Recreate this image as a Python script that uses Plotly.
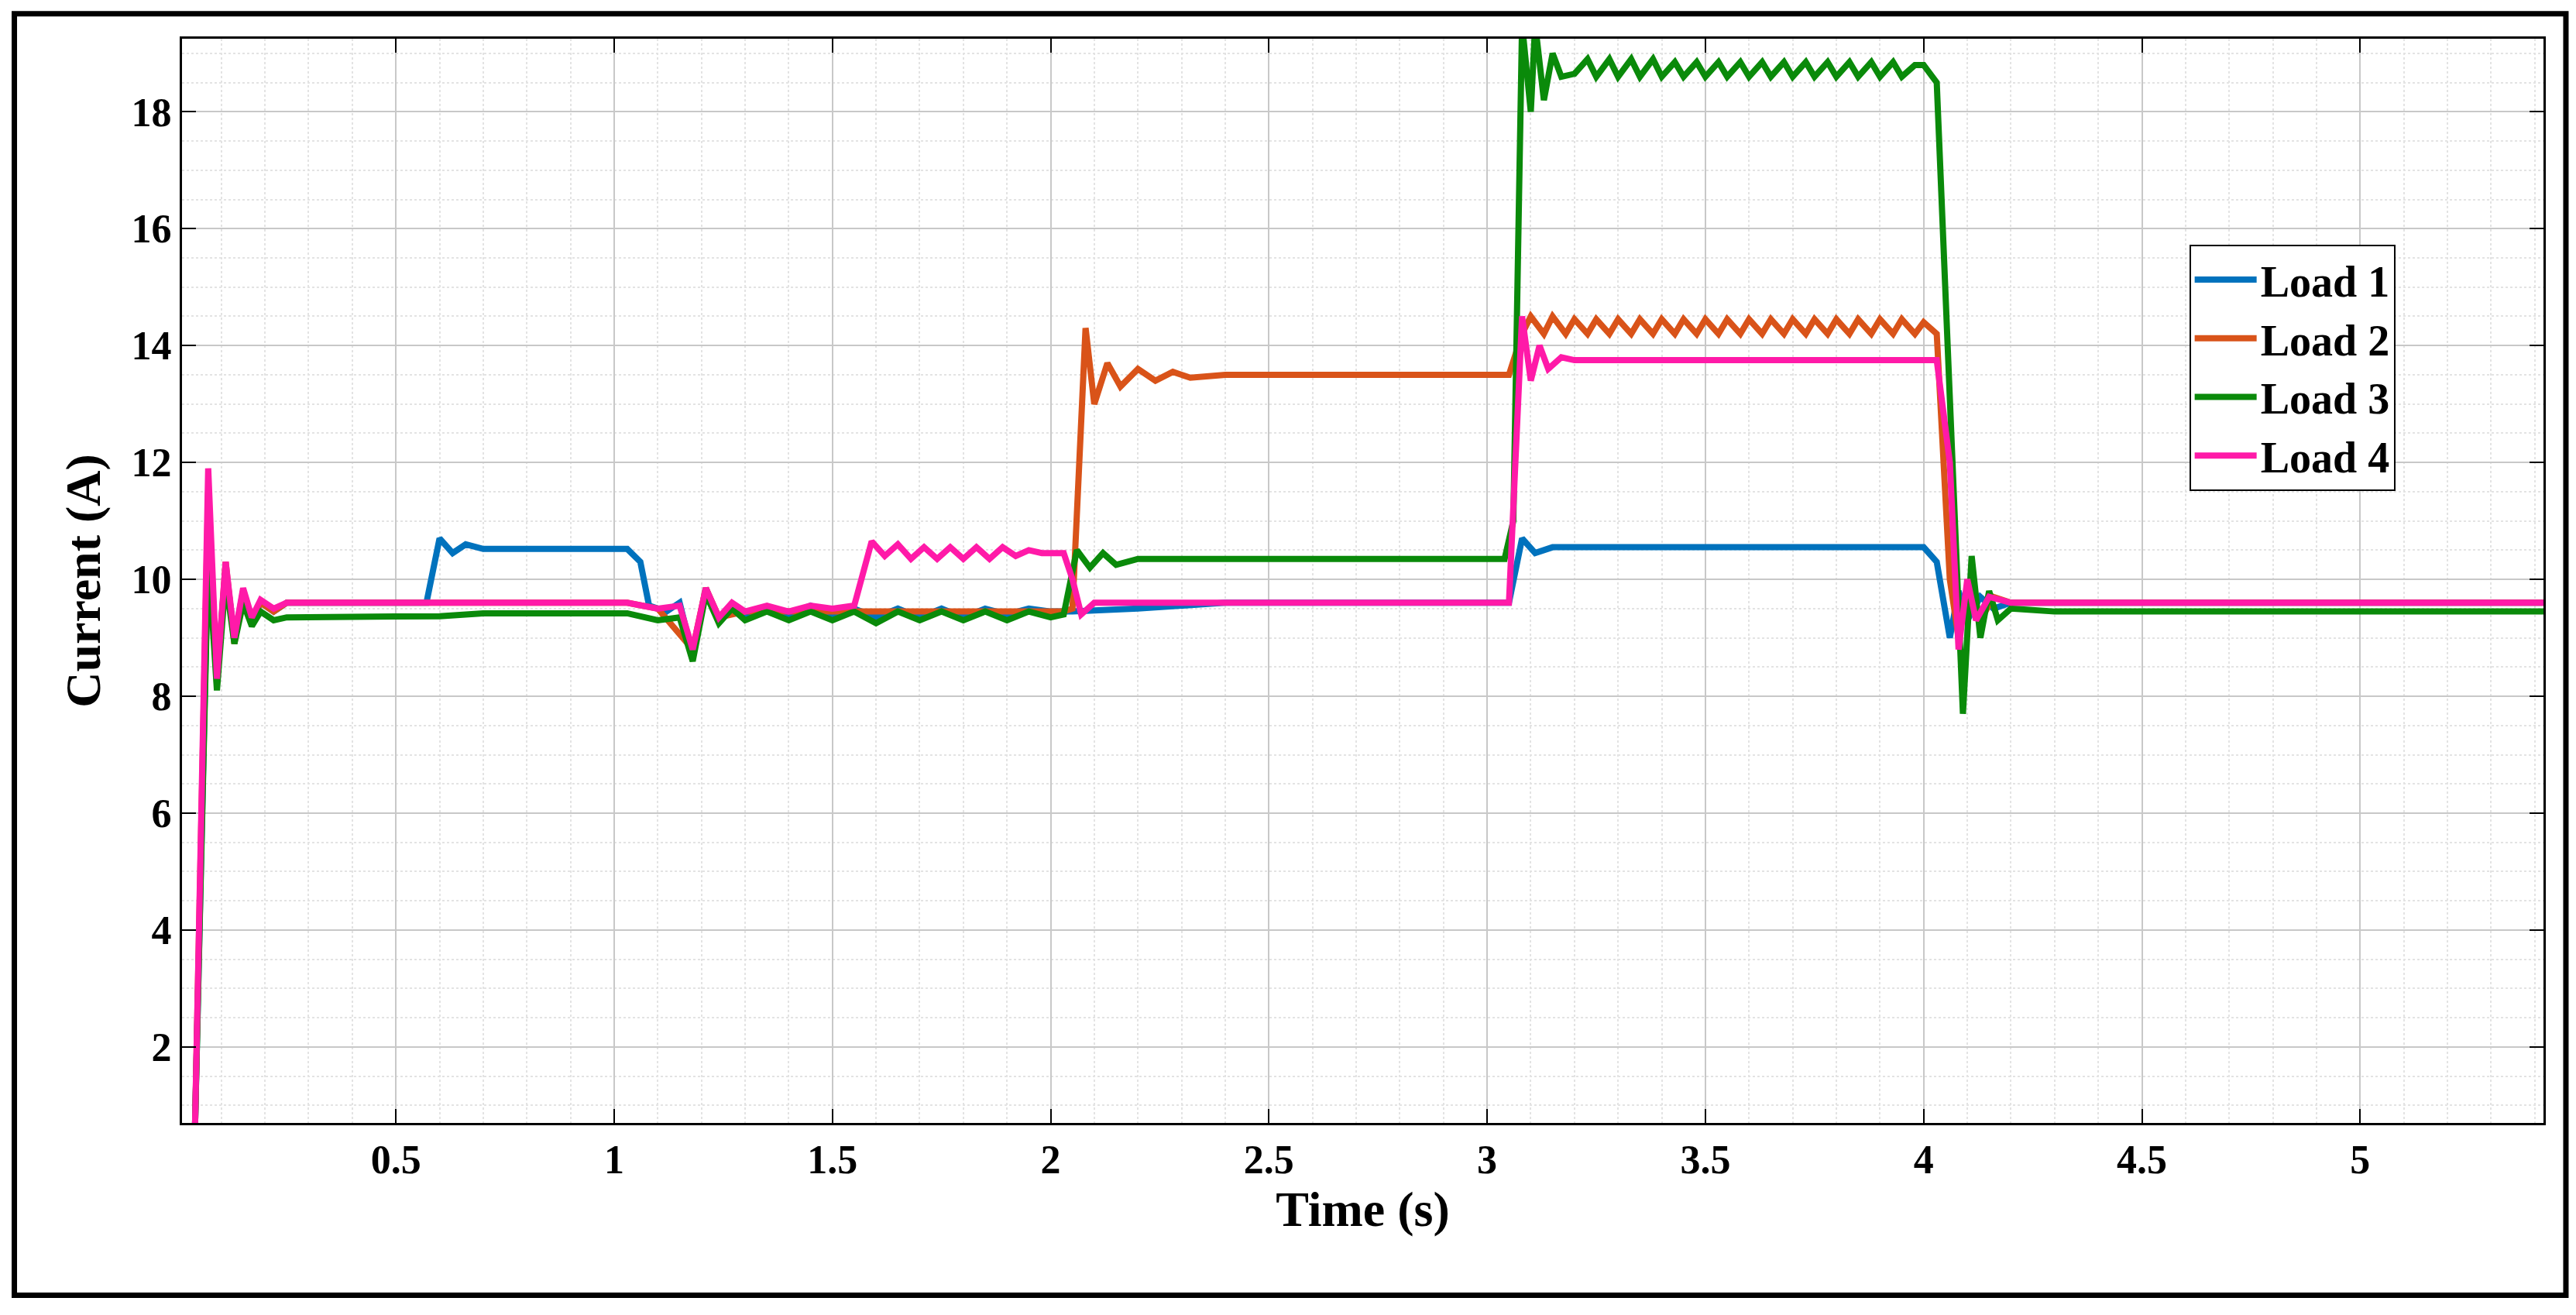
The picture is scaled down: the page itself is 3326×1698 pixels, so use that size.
import plotly.graph_objects as go

# ---- data ----
t_load1 = [0.04,0.07,0.09,0.11,0.13,0.15,0.17,0.19,0.22,0.25,0.57,0.60,0.63,0.66,0.70,1.03,1.06,1.08,1.12,1.15,1.18,1.21,1.24,1.27,1.30,1.35,1.40,1.45,1.50,1.55,1.60,1.65,1.70,1.75,1.80,1.85,1.90,1.95,2.00,2.05,2.20,2.40,3.05,3.08,3.11,3.15,3.20,4.00,4.03,4.06,4.08,4.10,4.13,4.16,4.20,5.42]
v_load1 = [0.7,10.6,8.3,10.2,9.0,9.8,9.3,9.6,9.45,9.6,9.6,10.7,10.45,10.6,10.52,10.52,10.3,9.55,9.45,9.6,8.7,9.85,9.3,9.55,9.4,9.5,9.4,9.55,9.4,9.5,9.35,9.5,9.35,9.5,9.35,9.5,9.4,9.5,9.45,9.45,9.5,9.6,9.6,10.7,10.45,10.55,10.55,10.55,10.3,9.0,9.8,9.3,9.7,9.5,9.6,9.6]

t_load2 = [0.04,0.07,0.09,0.11,0.13,0.15,0.17,0.19,0.22,0.25,1.03,1.10,1.18,1.21,1.24,1.30,2.03,2.05,2.08,2.10,2.13,2.16,2.20,2.24,2.28,2.32,2.40,3.05,3.08,3.10,3.13,3.15,3.18,3.20,3.23,3.25,3.28,3.30,3.33,3.35,3.38,3.40,3.43,3.45,3.48,3.50,3.53,3.55,3.58,3.60,3.63,3.65,3.68,3.70,3.73,3.75,3.78,3.80,3.83,3.85,3.88,3.90,3.93,3.95,3.98,4.00,4.03,4.06,4.08,4.10,4.13,4.16,4.20,5.42]
v_load2 = [0.7,11.5,8.2,10.3,8.9,9.8,9.3,9.6,9.45,9.6,9.6,9.5,8.8,9.85,9.35,9.45,9.45,9.5,14.3,13.0,13.7,13.3,13.6,13.4,13.55,13.45,13.5,13.5,14.2,14.5,14.2,14.5,14.2,14.45,14.2,14.45,14.2,14.45,14.2,14.45,14.2,14.45,14.2,14.45,14.2,14.45,14.2,14.45,14.2,14.45,14.2,14.45,14.2,14.45,14.2,14.45,14.2,14.45,14.2,14.45,14.2,14.45,14.2,14.45,14.2,14.4,14.2,10.0,9.0,9.9,9.3,9.7,9.6,9.6]

t_load3 = [0.04,0.07,0.09,0.11,0.13,0.15,0.17,0.19,0.22,0.25,0.60,0.70,1.03,1.10,1.15,1.18,1.21,1.24,1.27,1.30,1.35,1.40,1.45,1.50,1.55,1.60,1.65,1.70,1.75,1.80,1.85,1.90,1.95,2.00,2.03,2.06,2.09,2.12,2.15,2.20,2.30,3.04,3.06,3.08,3.10,3.11,3.13,3.15,3.17,3.20,3.23,3.25,3.28,3.30,3.33,3.35,3.38,3.40,3.43,3.45,3.48,3.50,3.53,3.55,3.58,3.60,3.63,3.65,3.68,3.70,3.73,3.75,3.78,3.80,3.83,3.85,3.88,3.90,3.93,3.95,3.98,4.00,4.03,4.06,4.08,4.09,4.11,4.13,4.15,4.17,4.20,4.30,5.42]
v_load3 = [0.7,10.4,8.1,10.0,8.9,9.6,9.2,9.45,9.3,9.35,9.37,9.42,9.42,9.3,9.35,8.6,9.75,9.25,9.5,9.3,9.45,9.3,9.45,9.3,9.45,9.25,9.45,9.3,9.45,9.3,9.45,9.3,9.45,9.35,9.4,10.5,10.2,10.45,10.25,10.35,10.35,10.35,11.0,19.5,18.0,19.5,18.2,19.0,18.6,18.65,18.9,18.6,18.9,18.6,18.9,18.6,18.9,18.6,18.85,18.6,18.85,18.6,18.85,18.6,18.85,18.6,18.85,18.6,18.85,18.6,18.85,18.6,18.85,18.6,18.85,18.6,18.85,18.6,18.85,18.6,18.8,18.8,18.5,13.0,9.0,7.7,10.4,9.0,9.8,9.3,9.5,9.45,9.45]

t_load4 = [0.04,0.07,0.09,0.11,0.13,0.15,0.17,0.19,0.22,0.25,1.03,1.10,1.15,1.18,1.21,1.24,1.27,1.30,1.35,1.40,1.45,1.50,1.55,1.59,1.62,1.65,1.68,1.71,1.74,1.77,1.80,1.83,1.86,1.89,1.92,1.95,1.98,2.03,2.05,2.07,2.10,2.15,3.05,3.08,3.10,3.12,3.14,3.17,3.20,4.03,4.06,4.08,4.10,4.12,4.15,4.20,5.42]
v_load4 = [0.7,11.9,8.3,10.3,9.0,9.85,9.35,9.65,9.5,9.6,9.6,9.5,9.55,8.8,9.85,9.35,9.6,9.45,9.55,9.45,9.55,9.5,9.55,10.65,10.4,10.6,10.35,10.55,10.35,10.55,10.35,10.55,10.35,10.55,10.4,10.5,10.45,10.45,10.0,9.4,9.6,9.6,9.6,14.5,13.4,14.0,13.6,13.8,13.75,13.75,12.0,8.8,10.0,9.3,9.7,9.6,9.6]

names = ["Load 1", "Load 2", "Load 3", "Load 4"]
colors = ["#0072BD", "#D95319", "#0A8A0A", "#FF1AA8"]
xticks = [0.5, 1, 1.5, 2, 2.5, 3, 3.5, 4, 4.5, 5]
yticks = [2, 4, 6, 8, 10, 12, 14, 16, 18]

series = [(t_load1, v_load1), (t_load2, v_load2), (t_load3, v_load3), (t_load4, v_load4)]

fig = go.Figure()
for (t, v), n, c in zip(series, names, colors):
    fig.add_trace(go.Scatter(x=t, y=v, mode="lines", name="<b>" + n + "</b>",
                             line=dict(color=c, width=8, shape="linear")))

font = "Liberation Serif"
axis_common = dict(showline=True, linecolor="black", linewidth=3, mirror="ticks",
                   ticks="inside", ticklen=18, tickwidth=2, tickcolor="black",
                   showgrid=True, gridcolor="#c8c8c8", gridwidth=2,
                   zeroline=False,
                   tickfont=dict(family=font, size=52, color="black", weight="bold"))
fig.update_xaxes(range=[0.01, 5.42], tickvals=xticks, ticktext=[str(x) for x in xticks],
                 title=dict(text="<b>Time (s)</b>", font=dict(family=font, size=64, color="black"), standoff=10),
                 minor=dict(dtick=0.1, showgrid=True, gridcolor="#e3e3e3", griddash="dot", gridwidth=2, ticks=""),
                 **axis_common)
fig.update_yaxes(range=[0.7, 19.25], tickvals=yticks, ticktext=[str(y) for y in yticks],
                 title=dict(text="<b>Current (A)</b>", font=dict(family=font, size=64, color="black"), standoff=20),
                 minor=dict(dtick=0.5, showgrid=True, gridcolor="#e3e3e3", griddash="dot", gridwidth=2, ticks=""),
                 **axis_common)
fig.update_layout(
    width=3326, height=1698,
    margin=dict(l=227, r=50, t=42, b=256),
    plot_bgcolor="white", paper_bgcolor="white",
    font=dict(family=font, color="black"),
    legend=dict(x=0.85, y=0.81, xanchor="left", yanchor="top",
                bgcolor="white", bordercolor="black", borderwidth=2,
                font=dict(family=font, size=56, color="black"),
                itemwidth=80, tracegroupgap=0),
    shapes=[dict(type="rect", xref="paper", yref="paper", x0=-0.071, x1=1.0095, y0=-0.159, y1=1.023,
                 line=dict(color="black", width=7), fillcolor="rgba(0,0,0,0)", layer="above")],
)
fig.write_html("out.html")
